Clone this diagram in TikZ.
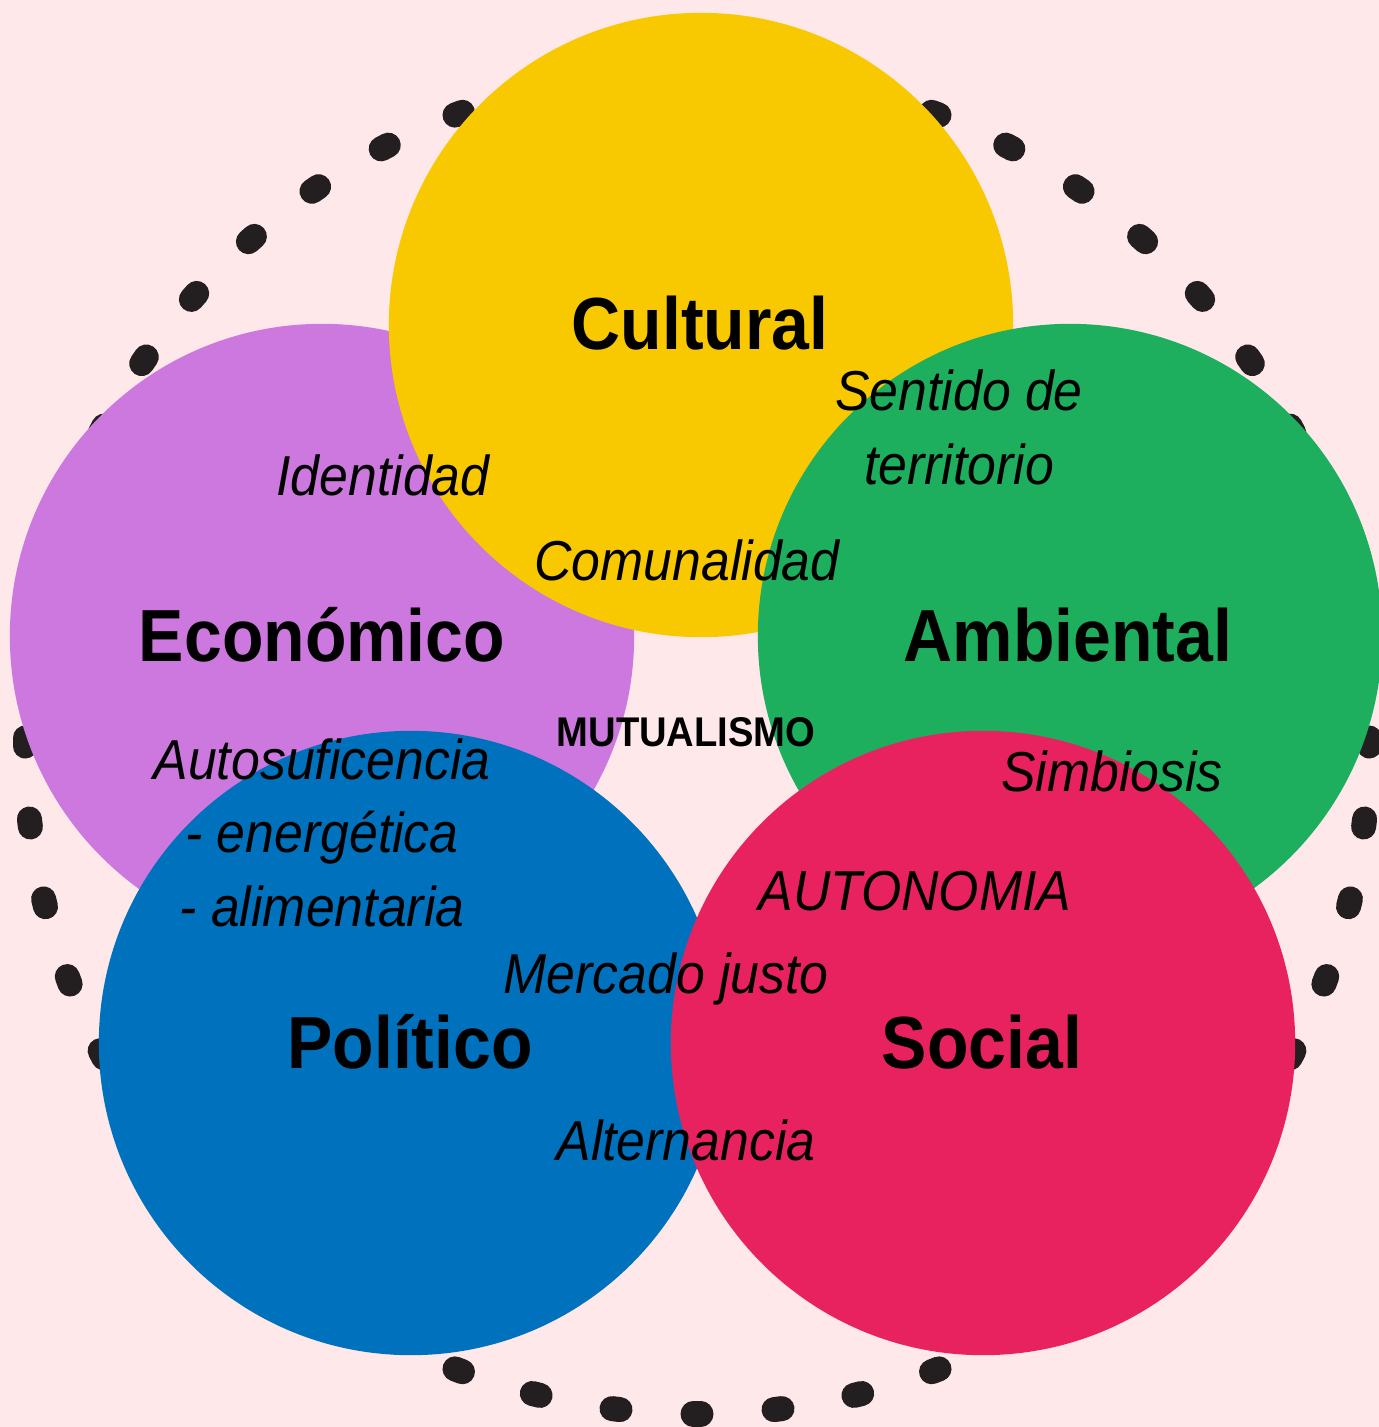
\documentclass[tikz,border=0pt]{standalone}
\usepackage{fontspec}
\setmainfont[FakeStretch=0.92]{Liberation Sans}

\definecolor{bgpink}{HTML}{FFE8EA}
\definecolor{dotcol}{HTML}{231F20}
\definecolor{culcol}{HTML}{F8C800}
\definecolor{ecocol}{HTML}{CC78DE}
\definecolor{ambcol}{HTML}{1DAE5E}
\definecolor{polcol}{HTML}{0071BC}
\definecolor{soccol}{HTML}{E8225F}

\begin{document}
\begin{tikzpicture}[x=0.01cm,y=-0.01cm,
    area/.style={circle, minimum size=6.24cm, inner sep=0pt},
    title/.style={font=\fontsize{21}{25}\selectfont\bfseries, anchor=base},
    idea/.style={font=\fontsize{16}{20.8}\selectfont\itshape, anchor=base, align=center, inner sep=0pt}]
    \useasboundingbox (0,0) rectangle (1379,1427);
    \fill[bgpink] (0,0) rectangle (1379,1427);

    \foreach \a [evaluate=\a as \t using \a*6.923077] in {0,...,51}
      \draw[dotcol, line width=0.25cm, line cap=round]
        ({697+672*cos(\t)-4*sin(\t)},{742+672*sin(\t)+4*cos(\t)}) --
        ({697+672*cos(\t)+4*sin(\t)},{742+672*sin(\t)-4*cos(\t)});

    \node[area, fill=ecocol] (econ) at (322,636) {};
    \node[area, fill=culcol] (cult) at (701,325) {};
    \node[area, fill=ambcol] (amb) at (1070,636) {};
    \node[area, fill=polcol] (pol) at (411,1043) {};
    \node[area, fill=soccol] (soc) at (983,1043) {};

    \node[title] (cultlbl) at (700,349) {Cultural};
    \node[title] (econlbl) at (322,661) {Económico};
    \node[title] (amblbl) at (1068,661) {Ambiental};
    \node[title] (pollbl) at (410,1068) {Político};
    \node[title] (soclbl) at (982,1068) {Social};

    \node[font=\fontsize{11.8}{14}\selectfont\bfseries, anchor=base] (mutual) at (686,746) {MUTUALISMO};

    \node[idea] (ident) at (383,495) {Identidad};
    \node[idea] (comun) at (687,580) {Comunalidad};
    \node[idea] (sentido) at (959,484) {Sentido de\\territorio};
    \node[idea] (autosuf) at (322,926) {Autosuficencia\\- energética\\- alimentaria};
    \node[idea] (simbio) at (1112,791) {Simbiosis};
    \node[idea] (autonom) at (915,910) {AUTONOMIA};
    \node[idea] (mercado) at (666,993) {Mercado justo};
    \node[idea] (altern) at (686,1160) {Alternancia};
  \end{tikzpicture}
\end{document}
